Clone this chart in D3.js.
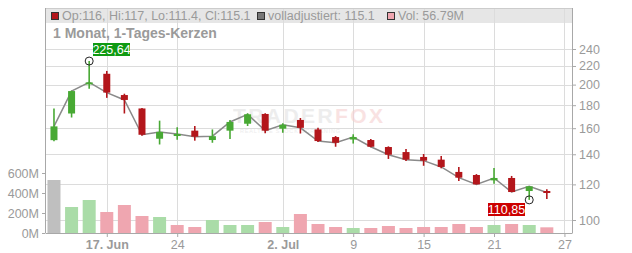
<!DOCTYPE html>
<html>
<head>
<meta charset="utf-8">
<script src="https://cdn.jsdelivr.net/npm/d3@7"></script>
<style>
body { margin: 0; background: #fff; }
svg text { font-family: "Liberation Sans", Arial, sans-serif; }
</style>
</head>
<body>
<div id="chart"></div>
<script>
var WIDTH = 632,
	HEIGHT = 253,
	LEFT = 45,
	RIGHT = 572,
	TOP = 8,
	BOTTOM = 233;

// trading days, 12 Jun - 24 Jul
var dates = ["12.06", "13.06", "16.06", "17.06", "18.06", "20.06", "23.06", "24.06", "25.06", "26.06",
	"27.06", "30.06", "01.07", "02.07", "03.07", "07.07", "08.07", "09.07", "10.07", "11.07",
	"14.07", "15.07", "16.07", "17.07", "18.07", "21.07", "22.07", "23.07", "24.07"];
var open  = [150.5, 172.5, 201.5, 211.4, 189.6, 177.0, 151.6, 154.3, 158.0, 150.6,
	158.0, 163.7, 172.1, 159.6, 166.9, 159.0, 152.9, 151.0, 150.6, 145.3,
	141.6, 138.1, 136.2, 127.9, 125.9, 122.5, 124.0, 116.0, 116.0];
var high  = [177.0, 194.0, 225.64, 214.5, 190.9, 177.5, 166.3, 160.7, 161.8, 159.0,
	166.9, 172.7, 172.7, 164.2, 168.6, 160.3, 153.7, 155.1, 151.4, 145.8,
	143.8, 140.2, 138.8, 131.2, 126.5, 130.5, 125.3, 119.0, 117.0];
var low   = [149.6, 169.0, 195.7, 186.9, 172.5, 153.9, 147.2, 150.8, 150.1, 148.5,
	151.4, 161.8, 155.9, 156.4, 155.7, 149.1, 145.5, 147.9, 145.1, 136.7,
	135.3, 132.0, 130.3, 122.1, 120.0, 120.4, 115.3, 110.85, 111.4];
var close = [161.5, 193.5, 202.3, 192.0, 184.9, 154.7, 157.0, 155.3, 153.2, 153.6,
	165.2, 171.8, 158.0, 162.9, 160.3, 149.8, 148.5, 152.9, 145.5, 139.7,
	136.2, 135.5, 131.2, 124.2, 120.0, 124.0, 115.4, 118.8, 115.1];
var volume = [530, 260, 330, 210, 280, 170, 160, 80, 60, 130,
	80, 80, 110, 60, 190, 90, 60, 50, 50, 70,
	50, 60, 60, 90, 60, 80, 90, 80, 56.79];

var xTickIdx = [3, 7, 13, 17, 21, 25, 29];
var xTickLabels = ["17. Jun", "24", "2. Jul", "9", "15", "21", "27"];
var priceTicks = [100, 120, 140, 160, 180, 200, 220, 240];
var volTicks = [0, 200, 400, 600];

var GREEN = "#48a934", RED = "#b3161b";

var xScale = d3.scaleLinear().domain([-0.51, 29.43]).range([LEFT, RIGHT]);
var yScale = d3.scaleLog().domain([100, 240]).range([220, 49]);
var vScale = d3.scaleLinear().domain([0, 600]).range([BOTTOM, 173]);

var svg = d3.select("#chart").append("svg")
	.attr("width", WIDTH)
	.attr("height", HEIGHT);

// header band
svg.append("rect")
	.attr("x", LEFT).attr("y", TOP)
	.attr("width", RIGHT - LEFT).attr("height", 15)
	.attr("fill", "#e6e6e6");

// grid
svg.append("g").selectAll("line").data(priceTicks).enter().append("line")
	.attr("x1", LEFT).attr("x2", RIGHT)
	.attr("y1", function(d){ return Math.round(yScale(d)) + 0.5; })
	.attr("y2", function(d){ return Math.round(yScale(d)) + 0.5; })
	.attr("stroke", "#dcdcdc");
svg.append("g").selectAll("line").data(xTickIdx).enter().append("line")
	.attr("x1", function(d){ return Math.round(xScale(d)) + 0.5; })
	.attr("x2", function(d){ return Math.round(xScale(d)) + 0.5; })
	.attr("y1", TOP).attr("y2", BOTTOM)
	.attr("stroke", "#dcdcdc");
svg.append("line")
	.attr("x1", LEFT).attr("x2", RIGHT).attr("y1", TOP + 0.5).attr("y2", TOP + 0.5)
	.attr("stroke", "#cccccc");

// watermark
var wm = svg.append("g").attr("opacity", 0.6);
var wmText = wm.append("text").attr("x", 233).attr("y", 123)
	.attr("font-size", 21).attr("font-weight", "bold")
	.attr("textLength", 150);
wmText.append("tspan").attr("fill", "#e2e2e2").text("TRADER");
wmText.append("tspan").attr("fill", "#f6d0d0").text("FOX");
wm.append("text").attr("x", 240).attr("y", 133)
	.attr("font-size", 5.5).attr("fill", "#e2e2e2")
	.attr("textLength", 100).text("REALTIME STOCK SCREENING");

// header legend
var legend = [
	{ x: 51, fill: RED, text: "Op:116, Hi:117, Lo:111.4, Cl:115.1" },
	{ x: 257, fill: "#777777", text: "volladjustiert: 115.1" },
	{ x: 387, fill: "#efa6b0", text: "Vol: 56.79M" }
];
var lg = svg.append("g").selectAll("g").data(legend).enter().append("g");
lg.append("rect")
	.attr("x", function(d){ return d.x + 0.5; }).attr("y", 12.5)
	.attr("width", 7).attr("height", 7)
	.attr("fill", function(d){ return d.fill; })
	.attr("stroke", "#333");
lg.append("text")
	.attr("x", function(d){ return d.x + 11; }).attr("y", 20)
	.attr("font-size", 12.5).attr("fill", "#9a9a9a")
	.text(function(d){ return d.text; });

svg.append("text")
	.attr("x", 53).attr("y", 38)
	.attr("font-size", 14).attr("font-weight", "bold").attr("fill", "#9a9a9a")
	.text("1 Monat, 1-Tages-Kerzen");

// volume bars
svg.append("g").selectAll("rect").data(volume).enter().append("rect")
	.attr("x", function(d, i){ return xScale(i) - 6.5; })
	.attr("width", 13)
	.attr("y", function(d){ return vScale(d); })
	.attr("height", function(d){ return BOTTOM - vScale(d); })
	.attr("fill", function(d, i){
		if (i === 0) return "#bfbfbf";
		return close[i] >= close[i - 1] ? "#aadca8" : "#efa6b0";
	});

// close line
var line = d3.line()
	.x(function(d, i){ return xScale(i); })
	.y(function(d){ return yScale(d); });
svg.append("path")
	.attr("d", line(close))
	.attr("fill", "none")
	.attr("stroke", "#8a8a8a")
	.attr("stroke-width", 1.5);

// candles
var candles = svg.append("g").selectAll("g").data(dates).enter().append("g");
candles.append("line")
	.attr("x1", function(d, i){ return xScale(i); })
	.attr("x2", function(d, i){ return xScale(i); })
	.attr("y1", function(d, i){ return yScale(high[i]); })
	.attr("y2", function(d, i){ return yScale(low[i]); })
	.attr("stroke", function(d, i){ return close[i] >= open[i] ? GREEN : RED; })
	.attr("stroke-width", 1.6);
candles.append("rect")
	.attr("x", function(d, i){ return xScale(i) - 3.5; })
	.attr("width", 7)
	.attr("y", function(d, i){ return yScale(Math.max(open[i], close[i])); })
	.attr("height", function(d, i){
		return Math.max(2, Math.abs(yScale(open[i]) - yScale(close[i])));
	})
	.attr("fill", function(d, i){ return close[i] >= open[i] ? GREEN : RED; });

// high / low markers
var hiIdx = d3.maxIndex(high), loIdx = d3.minIndex(low);
var marks = [
	{ i: hiIdx, v: high[hiIdx], fill: "#0f9a12", lx: 93, ly: 43 },
	{ i: loIdx, v: low[loIdx], fill: "#cc0000", lx: 488, ly: 203 }
];
var mk = svg.append("g").selectAll("g").data(marks).enter().append("g");
mk.append("circle")
	.attr("cx", function(d){ return xScale(d.i); })
	.attr("cy", function(d){ return yScale(d.v); })
	.attr("r", 4)
	.attr("fill", "none")
	.attr("stroke", "#222");
mk.append("rect")
	.attr("x", function(d){ return d.lx; }).attr("y", function(d){ return d.ly; })
	.attr("width", 37).attr("height", 13)
	.attr("fill", function(d){ return d.fill; });
mk.append("text")
	.attr("x", function(d){ return d.lx + 18.5; }).attr("y", function(d){ return d.ly + 11; })
	.attr("text-anchor", "middle")
	.attr("font-size", 12.5).attr("fill", "#fff")
	.text(function(d){ return d.v.toFixed(2).replace(".", ","); });

// axes
var xAxis = d3.axisBottom(xScale)
	.tickValues(xTickIdx)
	.tickFormat(function(d, i){ return xTickLabels[i]; })
	.tickSize(4).tickSizeOuter(0);
var gx = svg.append("g")
	.attr("transform", "translate(0," + BOTTOM + ")")
	.call(xAxis);
gx.selectAll("text")
	.attr("font-size", 12.5).attr("fill", "#9a9a9a")
	.attr("font-weight", function(d, i){ return xTickLabels[i].indexOf(".") > 0 ? "bold" : "normal"; });

var yAxis = d3.axisRight(yScale).tickValues(priceTicks).tickFormat(d3.format("d")).tickSize(4);
var gy = svg.append("g")
	.attr("transform", "translate(" + RIGHT + ",0)")
	.call(yAxis);
gy.selectAll("text").attr("font-size", 12.5).attr("fill", "#9a9a9a");
gy.select(".domain").attr("d", "M0.5," + TOP + "V" + BOTTOM);

var vAxis = d3.axisLeft(vScale).tickValues(volTicks)
	.tickFormat(function(d){ return d + "M"; }).tickSize(3);
var gv = svg.append("g")
	.attr("transform", "translate(" + LEFT + ",0)")
	.call(vAxis);
gv.selectAll("text").attr("font-size", 12.5).attr("fill", "#9a9a9a");
gv.select(".domain").attr("d", "M0.5," + TOP + "V" + BOTTOM);

svg.selectAll(".domain, .tick line").attr("stroke", "#a8a8a8");
</script>
</body>
</html>
